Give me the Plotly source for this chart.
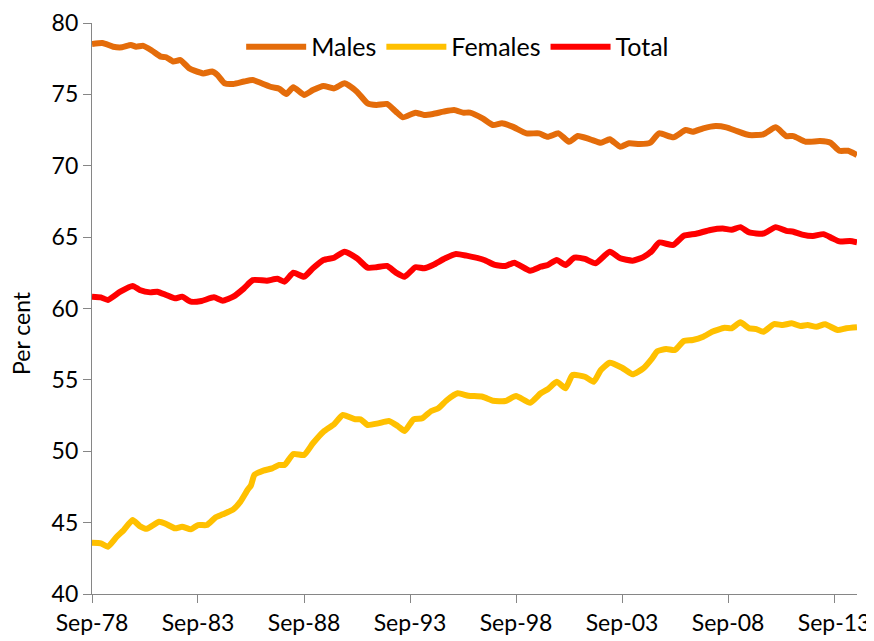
import plotly.graph_objects as go

# Labour force participation rates (per cent)
males_dates = ["1978-09", "1979-03", "1979-09", "1980-02", "1980-07", "1980-10", "1981-02", "1981-07",
               "1981-12", "1982-03", "1982-07", "1982-11", "1983-04", "1983-07", "1983-12", "1984-05",
               "1984-08", "1984-12", "1985-05", "1985-11", "1986-04", "1986-09", "1987-03", "1987-07",
               "1987-11", "1988-03", "1988-09", "1989-02", "1989-08", "1990-02", "1990-08", "1991-03",
               "1991-09", "1992-02", "1992-08", "1993-01", "1993-05", "1993-12", "1994-05", "1994-10",
               "1995-04", "1995-10", "1996-03", "1996-07", "1997-02", "1997-08", "1998-01", "1998-07",
               "1999-03", "1999-10", "2000-03", "2000-09", "2001-03", "2001-08", "2002-03", "2002-09",
               "2003-02", "2003-08", "2004-01", "2004-07", "2005-01", "2005-06", "2006-02", "2006-09",
               "2007-01", "2007-07", "2008-02", "2008-08", "2009-02", "2009-09", "2010-05", "2010-12",
               "2011-06", "2011-10", "2012-05", "2013-01", "2013-07", "2013-12", "2014-05", "2014-10"]
males_values = [78.53, 78.60, 78.34, 78.30, 78.46, 78.34, 78.40, 78.06,
                77.64, 77.60, 77.30, 77.40, 76.83, 76.66, 76.47, 76.60,
                76.36, 75.78, 75.73, 75.90, 76.00, 75.78, 75.50, 75.40,
                75.03, 75.50, 74.96, 75.30, 75.59, 75.42, 75.78, 75.19,
                74.37, 74.26, 74.33, 73.79, 73.39, 73.72, 73.56, 73.63,
                73.79, 73.90, 73.72, 73.72, 73.32, 72.85, 72.97, 72.74,
                72.27, 72.27, 72.03, 72.27, 71.68, 72.08, 71.85, 71.61,
                71.85, 71.33, 71.57, 71.52, 71.62, 72.27, 71.99, 72.50,
                72.38, 72.62, 72.78, 72.69, 72.43, 72.15, 72.20, 72.69,
                72.08, 72.08, 71.68, 71.73, 71.61, 71.05, 71.05, 70.75]

females_dates = ["1978-09", "1979-02", "1979-06", "1979-11", "1980-03", "1980-08", "1980-12", "1981-04",
                 "1981-11", "1982-03", "1982-08", "1982-12", "1983-05", "1983-09", "1984-02", "1984-07",
                 "1984-11", "1985-05", "1985-09", "1986-01", "1986-03", "1986-05", "1986-10", "1987-03",
                 "1987-07", "1987-10", "1988-03", "1988-09", "1989-02", "1989-08", "1990-02", "1990-07",
                 "1991-02", "1991-05", "1991-09", "1992-03", "1992-09", "1993-02", "1993-06", "1993-11",
                 "1994-04", "1994-09", "1995-01", "1995-06", "1995-12", "1996-06", "1997-02", "1997-08",
                 "1998-03", "1998-09", "1999-05", "1999-11", "2000-03", "2000-08", "2001-01", "2001-05",
                 "2001-12", "2002-05", "2002-09", "2003-02", "2003-09", "2004-03", "2004-09", "2005-02",
                 "2005-05", "2005-10", "2006-03", "2006-08", "2007-01", "2007-07", "2007-12", "2008-07",
                 "2008-11", "2009-04", "2009-09", "2010-01", "2010-05", "2010-11", "2011-04", "2011-09",
                 "2012-02", "2012-06", "2012-11", "2013-04", "2013-11", "2014-04", "2014-10"]
females_values = [43.59, 43.55, 43.31, 44.01, 44.48, 45.18, 44.76, 44.57,
                  45.06, 44.90, 44.60, 44.71, 44.53, 44.83, 44.83, 45.37,
                  45.58, 45.93, 46.47, 47.29, 47.60, 48.35, 48.64, 48.80,
                  49.04, 49.04, 49.81, 49.74, 50.56, 51.37, 51.89, 52.54,
                  52.24, 52.24, 51.84, 51.95, 52.12, 51.77, 51.42, 52.24,
                  52.31, 52.82, 53.01, 53.59, 54.06, 53.89, 53.82, 53.54,
                  53.52, 53.87, 53.40, 54.06, 54.34, 54.87, 54.41, 55.34,
                  55.22, 54.87, 55.69, 56.20, 55.85, 55.39, 55.80, 56.51,
                  57.00, 57.16, 57.09, 57.72, 57.79, 58.02, 58.37, 58.65,
                  58.61, 59.03, 58.61, 58.56, 58.37, 58.91, 58.84, 58.96,
                  58.77, 58.84, 58.72, 58.89, 58.49, 58.61, 58.68]

total_dates = ["1978-09", "1979-02", "1979-06", "1980-01", "1980-08", "1980-12", "1981-06", "1981-10",
               "1982-03", "1982-08", "1982-12", "1983-05", "1983-11", "1984-06", "1984-11", "1985-05",
               "1985-11", "1986-04", "1986-12", "1987-06", "1987-10", "1988-03", "1988-09", "1989-02",
               "1989-08", "1990-02", "1990-08", "1991-03", "1991-09", "1992-02", "1992-08", "1993-01",
               "1993-06", "1993-12", "1994-05", "1994-10", "1995-05", "1995-11", "1996-05", "1997-03",
               "1997-09", "1998-03", "1998-08", "1999-05", "1999-11", "2000-03", "2000-08", "2001-01",
               "2001-06", "2001-12", "2002-06", "2003-02", "2003-08", "2004-03", "2004-09", "2005-02",
               "2005-06", "2006-02", "2006-08", "2007-03", "2007-11", "2008-06", "2008-11", "2009-04",
               "2009-09", "2010-05", "2010-12", "2011-06", "2011-10", "2012-03", "2012-09", "2013-03",
               "2013-08", "2013-12", "2014-06", "2014-10"]
total_values = [60.83, 60.78, 60.60, 61.18, 61.58, 61.30, 61.13, 61.18,
                60.95, 60.71, 60.83, 60.48, 60.53, 60.78, 60.55, 60.83,
                61.41, 61.99, 61.95, 62.08, 61.88, 62.51, 62.23, 62.82,
                63.40, 63.56, 63.98, 63.52, 62.86, 62.89, 62.98, 62.51,
                62.23, 62.89, 62.82, 63.05, 63.52, 63.82, 63.70, 63.40,
                63.05, 62.98, 63.21, 62.65, 62.93, 63.05, 63.40, 63.05,
                63.56, 63.47, 63.17, 63.98, 63.52, 63.35, 63.60, 64.05,
                64.62, 64.45, 65.10, 65.24, 65.50, 65.60, 65.52, 65.70,
                65.33, 65.25, 65.70, 65.44, 65.38, 65.18, 65.08, 65.21,
                64.92, 64.70, 64.73, 64.64]

series_names = ["Males", "Females", "Total"]
series_colors = ["#E46C0A", "#FFC000", "#FF0000"]

FONT = "Lato, 'Open Sans', sans-serif"
AXIS_COLOR = "#868686"

fig = go.Figure()
for name, color, xs, ys in zip(series_names, series_colors,
                               [males_dates, females_dates, total_dates],
                               [males_values, females_values, total_values]):
    fig.add_trace(go.Scatter(
        x=xs, y=ys, name=name, mode="lines",
        line=dict(color=color, width=6, shape="spline", smoothing=0.5),
    ))

# the page places the figure 8px in from the top-left corner, so the figure is
# 8px smaller and its margins are shifted to keep the reference layout
fig.update_layout(
    width=866, height=633,
    margin=dict(l=84, r=17, t=15, b=47),
    paper_bgcolor="white", plot_bgcolor="white",
    font=dict(family=FONT, size=23, color="#000000"),
    showlegend=True,
    legend=dict(
        orientation="h", x=0.478, xanchor="center", y=0.958, yanchor="middle",
        font=dict(family=FONT, size=25, color="#000000"),
        bgcolor="rgba(0,0,0,0)", itemwidth=60, traceorder="normal",
    ),
    xaxis=dict(
        type="date",
        range=["1978-09-01", "2014-10-01"],
        tick0="1978-09-01", dtick="M60", tickformat="%b-%y",
        showgrid=False, zeroline=False,
        showline=True, linecolor=AXIS_COLOR, linewidth=1.3,
        ticks="outside", ticklen=8, tickcolor=AXIS_COLOR, tickwidth=1.3,
        tickfont=dict(family=FONT, size=23, color="#000000"),
        automargin=False,
    ),
    yaxis=dict(
        range=[40, 80], dtick=5, tick0=40,
        showgrid=False, zeroline=False,
        showline=True, linecolor=AXIS_COLOR, linewidth=1.3,
        ticks="outside", ticklen=8, tickcolor=AXIS_COLOR, tickwidth=1.3,
        tickfont=dict(family=FONT, size=23, color="#000000"),
        automargin=False,
    ),
    annotations=[dict(
        text="Per cent", xref="paper", yref="paper",
        x=-0.093, y=0.457, xanchor="center", yanchor="middle",
        textangle=-90, showarrow=False,
        font=dict(family=FONT, size=23, color="#000000"),
    )],
)

fig.write_html("out.html")
